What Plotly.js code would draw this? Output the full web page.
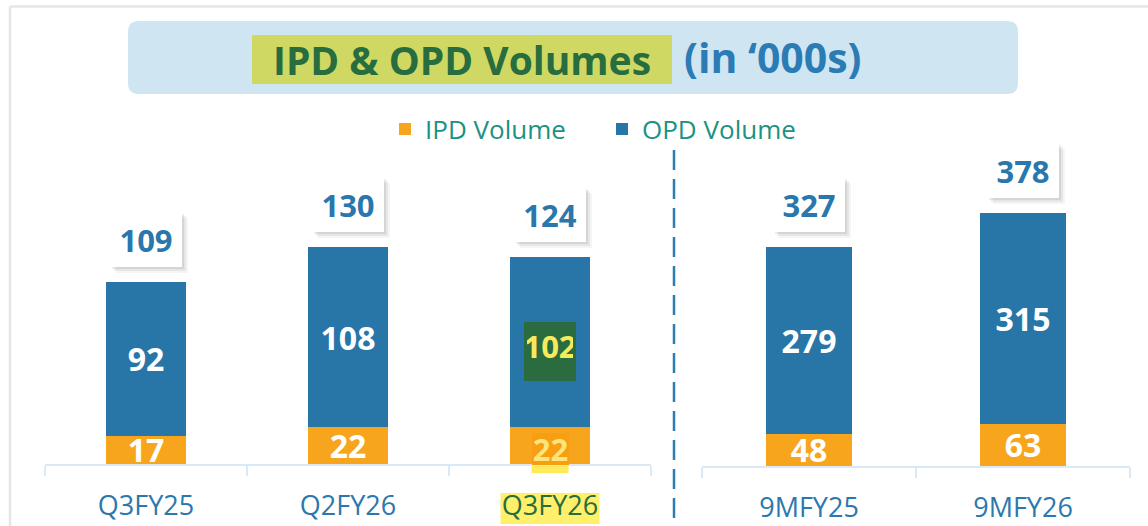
<!DOCTYPE html>
<html>
<head>
<meta charset="utf-8">
<script src="https://cdn.plot.ly/plotly-3.0.1.min.js"></script>
<style>html,body{margin:0;padding:0;background:#fff;}#chart{width:1148px;height:526px;}</style>
</head>
<body>
<div id="chart"></div>
<script>
// ---- data ----
const quarterCats = ['Q3FY25', 'Q2FY26', 'Q3FY26'];
const quarterIPD = [17, 22, 22];
const quarterOPD = [92, 108, 102];
const quarterTotal = [109, 130, 124];

const ninemCats = ['9MFY25', '9MFY26'];
const ninemIPD = [48, 63];
const ninemOPD = [279, 315];
const ninemTotal = [327, 378];

const highlightCat = 'Q3FY26';

// ---- styling ----
const W = 1148, H = 526;
const FONT = '"Open Sans", sans-serif';
const ORANGE = '#f7a51c';
const BLUE = '#2876a8';
const LABEL_BLUE = '#2a77ad';
const GREEN = '#276d3f';
const px = x => x / W;
const py = y => 1 - y / H;

const hiIdx = quarterCats.indexOf(highlightCat);

function barTrace(cats, vals, color, name, xa, ya, showlegend, hideIdx) {
  return {
    type: 'bar', x: cats, y: vals, name: name,
    xaxis: xa, yaxis: ya, showlegend: showlegend, legendgroup: name,
    marker: {color: color, line: {width: 0}},
    width: 0.4,
    text: vals.map((v, i) => i === hideIdx ? '' : String(v)),
    textposition: 'inside', insidetextanchor: 'middle', constraintext: 'none',
    textangle: 0, cliponaxis: true,
    textfont: {family: FONT, size: 32, weight: 700, color: '#ffffff'},
    hoverinfo: 'skip'
  };
}

const data = [
  barTrace(quarterCats, quarterIPD, ORANGE, 'IPD Volume', 'x', 'y', true, hiIdx),
  barTrace(quarterCats, quarterOPD, BLUE, 'OPD Volume', 'x', 'y', true, hiIdx),
  barTrace(ninemCats, ninemIPD, ORANGE, 'IPD Volume', 'x2', 'y2', false, -1),
  barTrace(ninemCats, ninemOPD, BLUE, 'OPD Volume', 'x2', 'y2', false, -1)
];

// total label boxes with soft shadow
const annotations = [];
function totals(cats, tots, xr, yr) {
  cats.forEach((c, i) => {
    const base = {x: c, y: tots[i], xref: xr, yref: yr, yanchor: 'bottom', xanchor: 'center',
      showarrow: false, width: 54, height: 37, borderpad: 9, borderwidth: 0,
      font: {family: FONT, size: 31, weight: 700, color: 'rgba(0,0,0,0)'}, text: ' '};
    annotations.push(Object.assign({}, base, {xshift: 6, yshift: 9, bgcolor: 'rgba(0,0,0,0.04)'}));
    annotations.push(Object.assign({}, base, {xshift: 4, yshift: 11, bgcolor: 'rgba(0,0,0,0.06)'}));
    annotations.push(Object.assign({}, base, {xshift: 2, yshift: 13, bgcolor: 'rgba(0,0,0,0.07)'}));
    annotations.push(Object.assign({}, base, {xshift: 0, yshift: 15, bgcolor: '#ffffff',
      text: String(tots[i]), font: {family: FONT, size: 31, weight: 700, color: LABEL_BLUE}}));
  });
}
totals(quarterCats, quarterTotal, 'x', 'y');
totals(ninemCats, ninemTotal, 'x2', 'y2');

// highlighted OPD value (dark green box, yellow text)
annotations.push({
  x: highlightCat, y: quarterIPD[hiIdx] + quarterOPD[hiIdx] / 2, xref: 'x', yref: 'y',
  showarrow: false, text: String(quarterOPD[hiIdx]), valign: 'top',
  width: 46, height: 53, borderpad: 3, borderwidth: 0, bgcolor: '#2a6b40', yshift: -9,
  font: {family: FONT, size: 31, weight: 700, color: '#f7ea5c'}
});
// highlighted IPD value (tinted box)
annotations.push({
  x: highlightCat, y: quarterIPD[hiIdx] / 2, xref: 'x', yref: 'y',
  showarrow: false, text: String(quarterIPD[hiIdx]),
  width: 37, height: 32, borderpad: 0, borderwidth: 0, bgcolor: '#f89e12', yshift: -3,
  font: {family: FONT, size: 31, weight: 700, color: '#fce57c'}
});

// title
annotations.push({
  x: px(462), y: py(59), xref: 'paper', yref: 'paper', xanchor: 'center', yanchor: 'middle', showarrow: false,
  text: 'IPD &amp; OPD Volumes', bgcolor: '#cfd862', width: 420, height: 49, borderpad: 0, borderwidth: 0,
  font: {family: FONT, size: 39, weight: 700, color: GREEN}
});
annotations.push({
  x: px(682), y: py(57), xref: 'paper', yref: 'paper', xanchor: 'left', yanchor: 'middle', showarrow: false,
  text: '(in ‘000s)',
  font: {family: FONT, size: 41, weight: 700, color: '#2b7bb5'}
});

// rounded title box
function roundRect(x0, y0, x1, y1, r) {
  const rx = r / W, ry = r / H;
  const X0 = px(x0), X1 = px(x1), Y0 = py(y0), Y1 = py(y1);
  return `M${X0 + rx},${Y0} L${X1 - rx},${Y0} Q${X1},${Y0} ${X1},${Y0 - ry} L${X1},${Y1 + ry} Q${X1},${Y1} ${X1 - rx},${Y1} L${X0 + rx},${Y1} Q${X0},${Y1} ${X0},${Y1 + ry} L${X0},${Y0 - ry} Q${X0},${Y0} ${X0 + rx},${Y0} Z`;
}

const shapes = [
  // frame
  {type: 'line', xref: 'paper', yref: 'paper', x0: px(10), x1: 1, y0: py(6.5), y1: py(6.5), line: {color: '#e6e6e6', width: 2.5}},
  {type: 'line', xref: 'paper', yref: 'paper', x0: px(10), x1: px(10), y0: 0, y1: py(6.5), line: {color: '#e6e6e6', width: 2.5}},
  // title box
  {type: 'path', xref: 'paper', yref: 'paper', path: roundRect(128, 21, 1018, 94, 11), fillcolor: '#cfe5f2', line: {width: 0}, layer: 'below'},
  // divider
  {type: 'line', xref: 'paper', yref: 'paper', x0: px(674), x1: px(674), y0: py(150), y1: 0, line: {color: '#2e7cb4', width: 2.5, dash: '20px,9px'}},
  // tick label highlight
  {type: 'rect', xref: 'x', yref: 'paper', x0: hiIdx - 0.245, x1: hiIdx + 0.245, y0: py(524), y1: py(493), fillcolor: '#fff06b', line: {width: 0}, layer: 'below'},
  // IPD highlight below baseline
  {type: 'rect', xref: 'x', yref: 'paper', x0: hiIdx - 0.0916, x1: hiIdx + 0.0916, y0: py(473), y1: py(464), fillcolor: '#ffea5c', line: {width: 0}, layer: 'below'}
];

const axisCommon = {
  type: 'category', showline: true, linecolor: '#d9e9f5', linewidth: 2,
  ticks: 'outside', tickson: 'boundaries', ticklen: 10, tickwidth: 2, tickcolor: '#d9e9f5',
  showgrid: false, zeroline: false, fixedrange: true,
  tickfont: {family: FONT, size: 27, color: '#2c78ad'}, ticklabelstandoff: 17
};

const layout = {
  width: W, height: H, margin: {l: 0, r: 0, t: 0, b: 0},
  paper_bgcolor: '#ffffff', plot_bgcolor: 'rgba(0,0,0,0)',
  barmode: 'stack', bargap: 0.6,
  font: {family: FONT},
  xaxis: Object.assign({}, axisCommon, {domain: [px(45), px(651)], anchor: 'y', range: [-0.5, 2.5],
    tickmode: 'array', tickvals: quarterCats,
    ticktext: quarterCats.map(c => c === highlightCat ? `<span style="color:${GREEN}">${c}</span>` : c)}),
  yaxis: {domain: [1 - 464 / H, 1], range: [0, 464 / 1.67], visible: false, fixedrange: true},
  xaxis2: Object.assign({}, axisCommon, {domain: [px(702), px(1130)], anchor: 'y2', range: [-0.5, 1.5]}),
  yaxis2: {domain: [1 - 466 / H, 1], range: [0, 466 / 0.669], visible: false, fixedrange: true},
  showlegend: true,
  legend: {orientation: 'h', x: px(385), xanchor: 'left', y: py(129), yanchor: 'middle',
    font: {family: FONT, size: 26, color: '#1b9282'}, bgcolor: 'rgba(0,0,0,0)',
    entrywidth: 172, entrywidthmode: 'pixels', traceorder: 'normal'},
  annotations: annotations,
  shapes: shapes
};

Plotly.newPlot('chart', data, layout, {staticPlot: true, displayModeBar: false});
</script>
</body>
</html>
